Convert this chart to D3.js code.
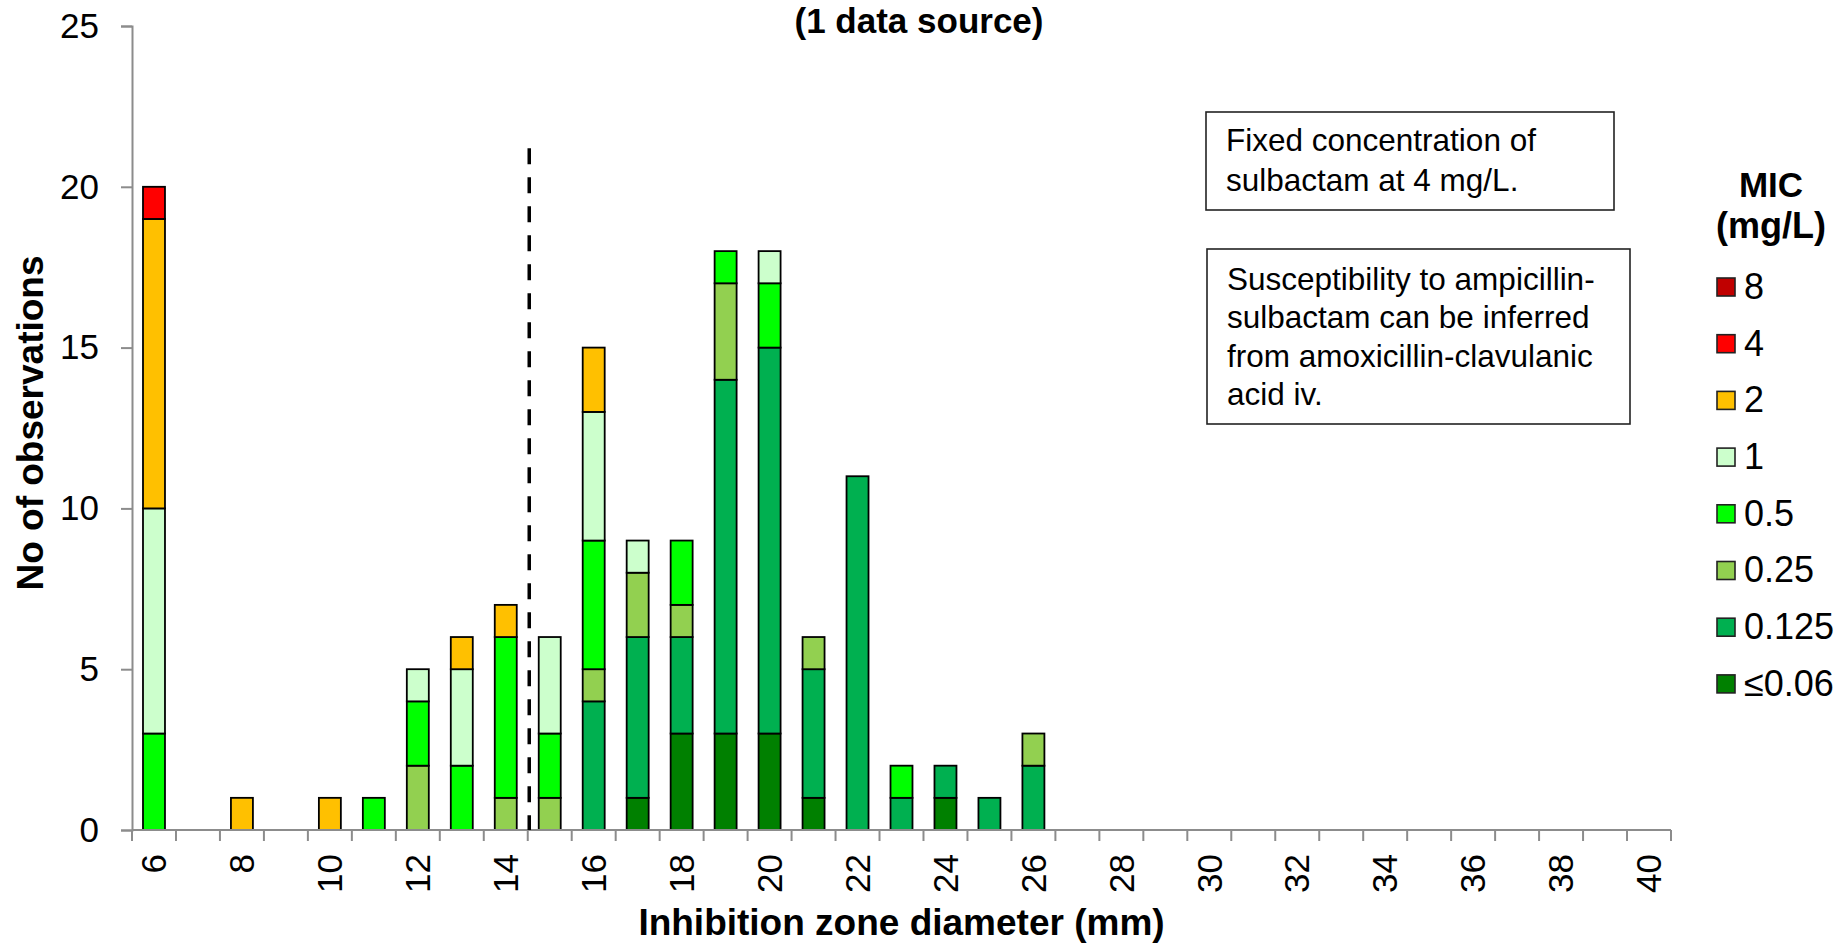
<!DOCTYPE html>
<html>
<head>
<meta charset="utf-8">
<script src="https://cdn.jsdelivr.net/npm/d3@7"></script>
<style>
  html, body { margin: 0; padding: 0; background: #fff; }
  svg { display: block; font-family: "Liberation Sans", Arial, sans-serif; }
</style>
</head>
<body>
<svg id="chart" width="1839" height="944"></svg>
<script>
// ---- DATA ----
const categories = ["6","7","8","9","10","11","12","13","14","15","16","17","18","19","20","21","22","23","24","25","26","27","28","29","30","31","32","33","34","35","36","37","38","39","40"];
const tickLabels = ["6","","8","","10","","12","","14","","16","","18","","20","","22","","24","","26","","28","","30","","32","","34","","36","","38","","40"];
const micLabels = ["≤0.06","0.125","0.25","0.5","1","2","4","8"];
const micColors = ["#008000","#00B050","#92D050","#00FF00","#CCFFCC","#FFC000","#FF0000","#C00000"];
const mic_le006 = [0,0,0,0,0,0,0,0,0,0,0,1,3,3,3,1,0,0,1,0,0,0,0,0,0,0,0,0,0,0,0,0,0,0,0];
const mic_0125  = [0,0,0,0,0,0,0,0,0,0,4,5,3,11,12,4,11,1,1,1,2,0,0,0,0,0,0,0,0,0,0,0,0,0,0];
const mic_025   = [0,0,0,0,0,0,2,0,1,1,1,2,1,3,0,1,0,0,0,0,1,0,0,0,0,0,0,0,0,0,0,0,0,0,0];
const mic_05    = [3,0,0,0,0,1,2,2,5,2,4,0,2,1,2,0,0,1,0,0,0,0,0,0,0,0,0,0,0,0,0,0,0,0,0];
const mic_1     = [7,0,0,0,0,0,1,3,0,3,4,1,0,0,1,0,0,0,0,0,0,0,0,0,0,0,0,0,0,0,0,0,0,0,0];
const mic_2     = [9,0,1,0,1,0,0,1,1,0,2,0,0,0,0,0,0,0,0,0,0,0,0,0,0,0,0,0,0,0,0,0,0,0,0];
const mic_4     = [1,0,0,0,0,0,0,0,0,0,0,0,0,0,0,0,0,0,0,0,0,0,0,0,0,0,0,0,0,0,0,0,0,0,0];
const mic_8     = [0,0,0,0,0,0,0,0,0,0,0,0,0,0,0,0,0,0,0,0,0,0,0,0,0,0,0,0,0,0,0,0,0,0,0];
const yTicks = [0,5,10,15,20,25];
const breakpoint = 14.5;      // dashed line between 14 and 15 mm
const breakpointTop = 21.2;   // height of the dashed line
const titleText = "(1 data source)";
const xTitle = "Inhibition zone diameter (mm)";
const yTitle = "No of observations";
const legendTitle = ["MIC", "(mg/L)"];
const note1 = ["Fixed concentration of", "sulbactam at 4 mg/L."];
const note2 = ["Susceptibility to ampicillin-", "sulbactam can be inferred", "from amoxicillin-clavulanic", "acid iv."];

const seriesValues = [mic_le006, mic_0125, mic_025, mic_05, mic_1, mic_2, mic_4, mic_8];

// ---- LAYOUT ----
const svg = d3.select("#chart");
const plotLeft = 132, plotRight = 1671, plotTop = 26, plotBottom = 830;
const axisColor = "#8c8c8c";

const x = d3.scaleBand().domain(categories).range([plotLeft, plotRight]).paddingInner(0.5).paddingOuter(0.25);
const y = d3.scaleLinear().domain([0, 25]).range([plotBottom, plotTop]);

const rows = categories.map((c, i) => {
  const r = { cat: c };
  micLabels.forEach((m, k) => r[m] = seriesValues[k][i]);
  return r;
});
const stack = d3.stack().keys(micLabels)(rows);

// bars
const g = svg.append("g");
stack.forEach((layer, k) => {
  g.selectAll(null).data(layer.filter(d => d[1] - d[0] > 0)).enter().append("rect")
    .attr("x", d => x(d.data.cat))
    .attr("width", x.bandwidth())
    .attr("y", d => y(d[1]))
    .attr("height", d => y(d[0]) - y(d[1]))
    .attr("fill", micColors[k])
    .attr("stroke", "#000")
    .attr("stroke-width", 1.8);
});

// y axis
const yAxis = svg.append("g").attr("transform", `translate(${plotLeft},0)`)
  .call(d3.axisLeft(y).tickValues(yTicks).tickSize(11).tickPadding(22).tickFormat(d3.format("d")));
yAxis.select(".domain").attr("stroke", axisColor).attr("stroke-width", 2);
yAxis.selectAll(".tick line").attr("stroke", axisColor).attr("stroke-width", 2);
yAxis.selectAll(".tick text").attr("font-size", 35).attr("fill", "#000")
  .attr("font-family", "Liberation Sans, Arial, sans-serif");

// x axis: line + boundary ticks
const step = x.step();
const x0 = x.range()[0];
const boundaries = d3.range(categories.length + 1).map(i => x0 + i * step);
svg.append("line").attr("x1", plotLeft).attr("x2", plotRight).attr("y1", plotBottom).attr("y2", plotBottom)
  .attr("stroke", axisColor).attr("stroke-width", 2);
svg.append("g").selectAll("line").data(boundaries).enter().append("line")
  .attr("x1", d => d).attr("x2", d => d).attr("y1", plotBottom).attr("y2", plotBottom + 11)
  .attr("stroke", axisColor).attr("stroke-width", 2);
svg.append("g").selectAll("text").data(categories).enter().append("text")
  .attr("transform", d => `translate(${x(d) + x.bandwidth() / 2},${plotBottom + 24}) rotate(-90)`)
  .attr("text-anchor", "end").attr("dy", "0.35em").attr("font-size", 35).attr("fill", "#000")
  .text((d, i) => tickLabels[i]);

// dashed breakpoint line
const bpX = x(String(Math.ceil(breakpoint))) - step * x.paddingInner() / 2;
svg.append("line").attr("x1", bpX + 1.5).attr("x2", bpX + 1.5)
  .attr("y1", y(breakpointTop)).attr("y2", plotBottom)
  .attr("stroke", "#000").attr("stroke-width", 3.5).attr("stroke-dasharray", "16,13");

// titles
svg.append("text").attr("x", 919).attr("y", 33).attr("text-anchor", "middle")
  .attr("font-size", 35).attr("font-weight", "bold").text(titleText);
svg.append("text").attr("x", (plotLeft + plotRight) / 2).attr("y", 935).attr("text-anchor", "middle")
  .attr("font-size", 37).attr("font-weight", "bold").text(xTitle);
svg.append("text").attr("transform", `translate(43,423) rotate(-90)`).attr("text-anchor", "middle")
  .attr("font-size", 37).attr("font-weight", "bold").text(yTitle);

// annotation boxes
function noteBox(bx, by, bw, bh, lines, firstBase, lineH) {
  svg.append("rect").attr("x", bx).attr("y", by).attr("width", bw).attr("height", bh)
    .attr("fill", "#fff").attr("stroke", "#222").attr("stroke-width", 1.6);
  const t = svg.append("text").attr("font-size", 31.5).attr("fill", "#000");
  lines.forEach((l, i) => t.append("tspan").attr("x", bx + 20).attr("y", firstBase + i * lineH).text(l));
}
noteBox(1206, 112, 408, 98, note1, 151, 40);
noteBox(1207, 249, 423, 175, note2, 290, 38.3);

// legend
svg.append("text").attr("x", 1771).attr("y", 197).attr("text-anchor", "middle")
  .attr("font-size", 35).attr("font-weight", "bold").text(legendTitle[0]);
svg.append("text").attr("x", 1771).attr("y", 238).attr("text-anchor", "middle")
  .attr("font-size", 36).attr("font-weight", "bold").text(legendTitle[1]);
const legendOrder = micLabels.slice().reverse();
const lg = svg.append("g");
legendOrder.forEach((m, i) => {
  const cy = 286 + i * 56.7;
  const k = micLabels.indexOf(m);
  lg.append("rect").attr("x", 1717).attr("y", cy - 9 + 1).attr("width", 18).attr("height", 18)
    .attr("fill", micColors[k]).attr("stroke", "#222").attr("stroke-width", 1.6);
  lg.append("text").attr("x", 1744).attr("y", cy).attr("dy", "0.36em")
    .attr("font-size", 36).attr("fill", "#000").text(m);
});
</script>
</body>
</html>
